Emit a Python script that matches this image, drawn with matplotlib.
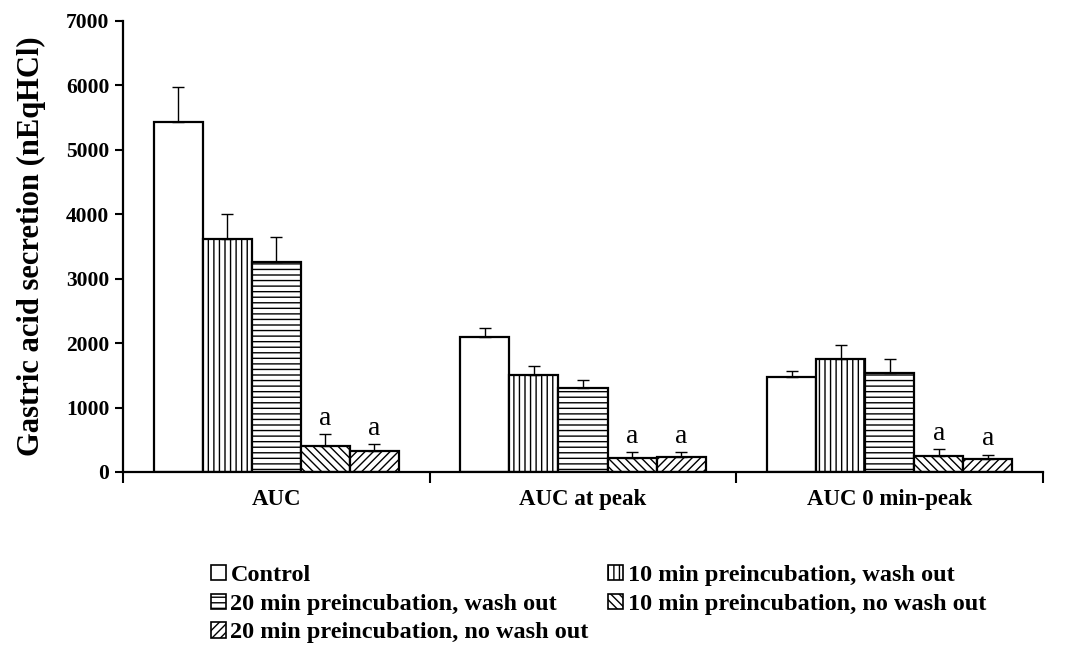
import numpy as np
import matplotlib.pyplot as plt
from matplotlib.patches import Patch

plt.rcParams['font.family'] = ['Liberation Serif', 'DejaVu Serif']
plt.rcParams['hatch.linewidth'] = 1.0

categories = ["AUC", "AUC at peak", "AUC 0 min-peak"]
series = ["Control",
          "10 min preincubation, wash out",
          "20 min preincubation, wash out",
          "10 min preincubation, no wash out",
          "20 min preincubation, no wash out"]
values = [
    [5430, 2100, 1470],
    [3620, 1510, 1760],
    [3260, 1300, 1530],
    [400, 220, 250],
    [320, 240, 200],
]
errors = [
    [540, 130, 100],
    [390, 130, 210],
    [390, 130, 220],
    [190, 90, 100],
    [110, 70, 70],
]
sig = [
    [False, False, False],
    [False, False, False],
    [False, False, False],
    [True, True, True],
    [True, True, True],
]
hatches = ["", "|||", "---", "\\\\\\\\", "////"]

fig = plt.figure(figsize=(10.81, 6.57), dpi=100)
ax = fig.add_axes([0.1138, 0.2816, 0.851, 0.6866])

x = np.arange(len(categories))
n = len(series)
w = 0.8 / n
for i in range(n):
    pos = x + (i - (n - 1) / 2) * w
    ax.bar(pos, values[i], w, color="white", edgecolor="black", linewidth=1.6,
           hatch=hatches[i], zorder=2)
    ax.errorbar(pos, values[i], yerr=[np.zeros(3), errors[i]], fmt="none",
                ecolor="black", elinewidth=1.0, capsize=4, capthick=1.0, zorder=3)
    for j in range(len(categories)):
        if sig[i][j]:
            ax.text(pos[j], values[i][j] + errors[i][j] + 50, "a",
                    ha="center", va="bottom", fontsize=20)

ax.set_xlim(-0.5, len(categories) - 0.5)
ax.set_ylim(0, 7000)
ax.set_yticks(range(0, 7001, 1000))
ax.set_yticklabels([str(v) for v in range(0, 7001, 1000)], fontsize=15.5, fontweight="bold")
ax.set_xticks(np.arange(len(categories) + 1) - 0.5)
ax.set_xticklabels([])
ax.set_xticks(x, minor=True)
ax.set_xticklabels(categories, minor=True, fontsize=16.5, fontweight="bold")
ax.tick_params(axis="x", which="major", direction="out", length=8, width=1.5)
ax.tick_params(axis="x", which="minor", length=0, pad=12)
ax.tick_params(axis="y", direction="out", length=6, width=1.5, pad=4)
for s in ["top", "right"]:
    ax.spines[s].set_visible(False)
for s in ["left", "bottom"]:
    ax.spines[s].set_linewidth(1.6)
ax.set_ylabel("Gastric acid secretion (nEqHCl)", fontsize=22, fontweight="bold", labelpad=14)

handles = [Patch(facecolor="white", edgecolor="black", hatch=h, linewidth=1.2) for h in hatches]
order = [0, 2, 4, 1, 3]
fig.legend([handles[k] for k in order], [series[k] for k in order],
           loc="upper left", bbox_to_anchor=(211 / 1081, 1 - 565 / 657), ncol=2,
           frameon=False, prop={"weight": "bold", "size": 17.5},
           handlelength=0.6, handleheight=0.6, handletextpad=0.2,
           columnspacing=0.8, labelspacing=0.3, borderaxespad=0, borderpad=0)

fig.savefig("out.png", dpi=100)
